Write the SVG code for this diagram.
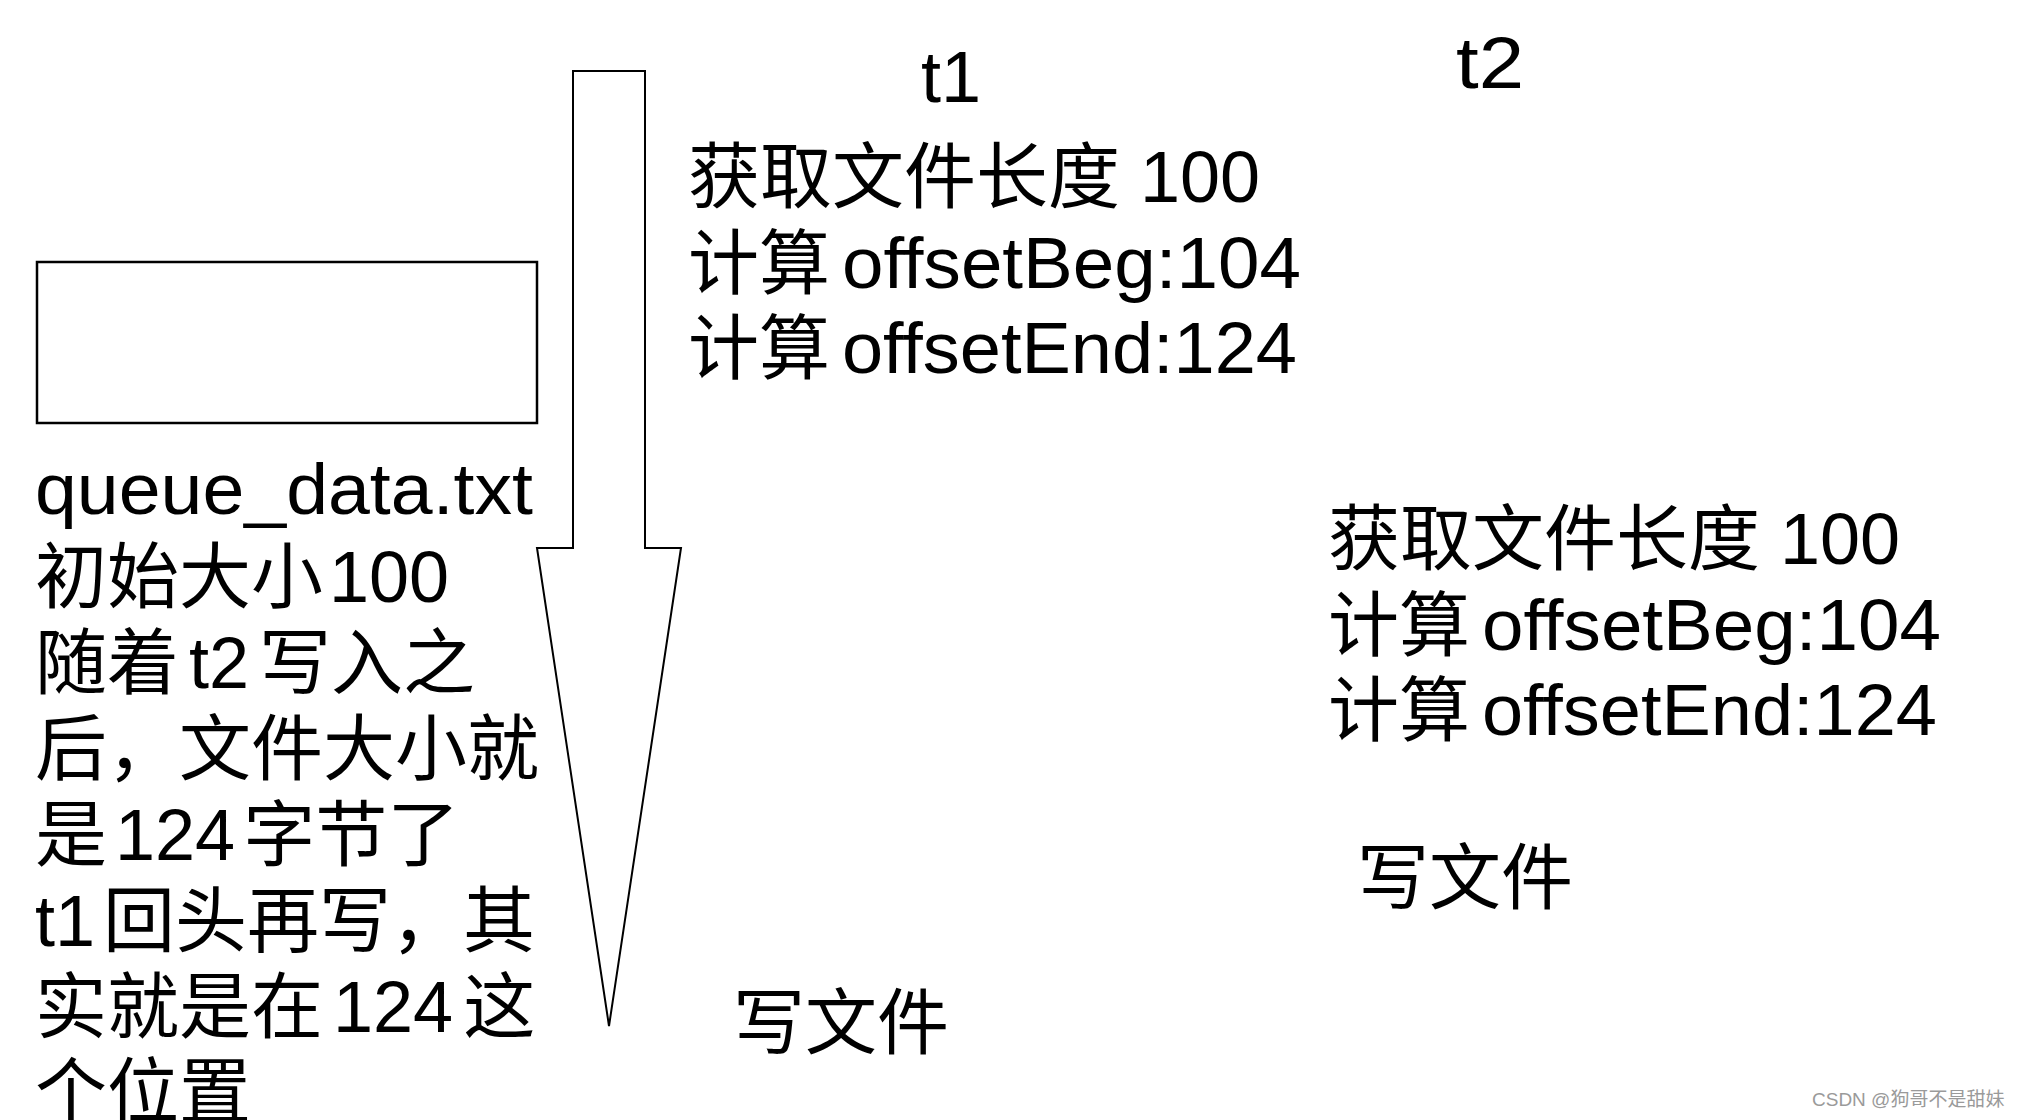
<svg xmlns="http://www.w3.org/2000/svg" width="2018" height="1120" viewBox="0 0 2018 1120">
<style>
text{font-family:"Liberation Sans","Noto Sans CJK SC",sans-serif;fill:#000;}
.t{font-size:72px;}
.c{font-size:71px;}
.box{fill:#fff;stroke:#000;stroke-width:2.5;}
.arrow{fill:#fff;stroke:#000;stroke-width:2;stroke-linejoin:miter;}
.wm{font-size:19px;fill:#9a9a9a;}
</style>
<rect width="2018" height="1120" fill="#fff"/>
<g id="connectors">
<polygon class="arrow" points="573,71 645,71 645,548 681,548 609,1026 537,548 573,548"/>
</g>
<g id="file-box">
<rect class="box" x="37" y="262" width="500" height="161"/>
</g>
<g id="file-desc">
<text class="t" x="35" y="514" textLength="498" lengthAdjust="spacingAndGlyphs">queue_data.txt</text>
<text class="t" x="35" y="602">初始大小<tspan dx="6">100</tspan></text>
<text class="t" x="35" y="688">随着<tspan dx="10">t2</tspan><tspan dx="10">写入之</tspan></text>
<text class="t" x="35" y="774">后，文件大小就</text>
<text class="t" x="35" y="860">是<tspan dx="8">124</tspan><tspan dx="8">字节了</tspan></text>
<text class="t" x="35" y="946">t1<tspan dx="8">回头再写，其</tspan></text>
<text class="t" x="35" y="1032">实就是在<tspan dx="10">124</tspan><tspan dx="10">这</tspan></text>
<text class="t" x="35" y="1117">个位置</text>
</g>
<g id="t1">
<text class="t" x="921" y="102">t1</text>
<text class="t" x="688" y="202">获取文件长度 100</text>
<text class="c" x="688" y="288">计算</text>
<text class="t" x="842" y="288" textLength="459" lengthAdjust="spacingAndGlyphs">offsetBeg:104</text>
<text class="c" x="688" y="373">计算</text>
<text class="t" x="842" y="373" textLength="455" lengthAdjust="spacingAndGlyphs">offsetEnd:124</text>
<text class="t" x="733" y="1048">写文件</text>
</g>
<g id="t2">
<text class="t" x="1456" y="88" textLength="68" lengthAdjust="spacingAndGlyphs">t2</text>
<text class="t" x="1328" y="564">获取文件长度 100</text>
<text class="c" x="1328" y="650">计算</text>
<text class="t" x="1482" y="650" textLength="459" lengthAdjust="spacingAndGlyphs">offsetBeg:104</text>
<text class="c" x="1328" y="735">计算</text>
<text class="t" x="1482" y="735" textLength="455" lengthAdjust="spacingAndGlyphs">offsetEnd:124</text>
<text class="t" x="1357" y="903">写文件</text>
</g>
<g id="watermark">
<text class="wm" x="1812" y="1106">CSDN @狗哥不是甜妹</text>
</g>
</svg>
